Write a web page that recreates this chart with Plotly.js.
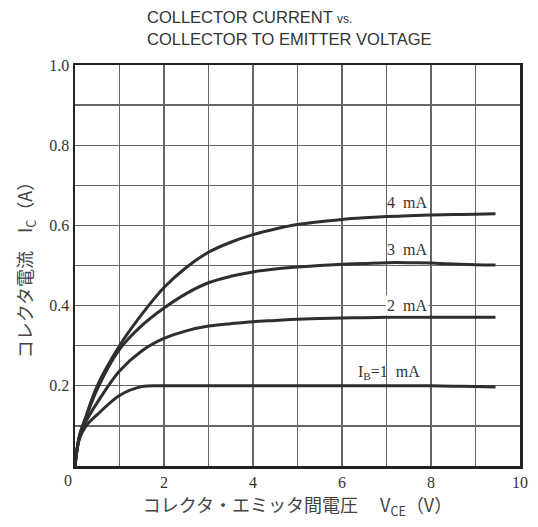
<!DOCTYPE html>
<html>
<head>
<meta charset="utf-8">
<script src="https://cdn.plot.ly/plotly-3.0.1.min.js"></script>
<style>html,body{margin:0;padding:0;background:#fff;}#chart{width:538px;height:527px;}</style>
</head>
<body>
<div id="chart"></div>
<script>
// Collector-emitter voltage (V)
const vce = [0, 0.1, 0.25, 0.5, 1, 1.5, 2, 2.5, 3, 3.5, 4, 4.5, 5, 5.5, 6, 6.5, 7, 7.5, 8, 8.5, 9, 9.45];
// Collector current (A) for each base current
const ib1mA = [0, 0.068, 0.1, 0.128, 0.176, 0.198, 0.2, 0.2, 0.2, 0.2, 0.2, 0.2, 0.2, 0.2, 0.2, 0.2, 0.2, 0.2, 0.2, 0.199, 0.198, 0.197];
const ib2mA = [0, 0.072, 0.112, 0.158, 0.237, 0.287, 0.318, 0.337, 0.349, 0.355, 0.36, 0.363, 0.366, 0.368, 0.369, 0.37, 0.371, 0.371, 0.371, 0.371, 0.371, 0.371];
const ib3mA = [0, 0.075, 0.122, 0.192, 0.291, 0.35, 0.394, 0.43, 0.457, 0.473, 0.484, 0.491, 0.496, 0.5, 0.503, 0.505, 0.507, 0.507, 0.506, 0.504, 0.502, 0.501];
const ib4mA = [0, 0.075, 0.125, 0.2, 0.30, 0.378, 0.445, 0.495, 0.533, 0.558, 0.577, 0.591, 0.602, 0.609, 0.615, 0.619, 0.622, 0.624, 0.626, 0.627, 0.628, 0.629];

const seriesNames = ['I<sub>B</sub>=1&nbsp; mA', '2&nbsp; mA', '3&nbsp; mA', '4&nbsp; mA'];
const seriesValues = [ib1mA, ib2mA, ib3mA, ib4mA];
const labelX = [7.05, 7.45, 7.45, 7.45];
const labelY = [0.232, 0.4, 0.541, 0.658];

const xTickVals = [2, 4, 6, 8, 10];
const xTickText = ['2', '4', '6', '8', '10'];
const yTickVals = [0.2, 0.4, 0.6, 0.8, 1.0];
const yTickText = ['0.2', '0.4', '0.6', '0.8', '1.0'];
const originLabel = '0';
const titleLines = ['COLLECTOR CURRENT <span style="font-size:12px">vs.</span>', 'COLLECTOR TO EMITTER VOLTAGE'];

const curveColor = '#2e2e2e';
const gridColor = '#666';
const traces = seriesValues.map((vals, i) => ({
  x: vce, y: vals, type: 'scatter', mode: 'lines',
  line: {color: curveColor, width: 3, shape: 'spline', smoothing: 1.0},
  name: seriesNames[i], hoverinfo: 'skip'
}));

const M = {l: 75, r: 18, t: 65, b: 61};
const plotW = 538 - M.l - M.r;
const plotH = 527 - M.t - M.b;

const tickFont = {family: 'Liberation Serif, serif', size: 16, color: '#333'};
const annotations = seriesNames.map((t, i) => ({
  x: labelX[i], y: labelY[i], xref: 'x', yref: 'y', text: t, showarrow: false,
  font: {family: 'Liberation Serif, serif', size: 16, color: '#333'},
  bgcolor: i === 1 ? '#fff' : 'rgba(0,0,0,0)', borderpad: 1
}));
annotations.push({
  x: 0, y: 0, xref: 'x', yref: 'y', text: originLabel, showarrow: false,
  xanchor: 'center', yanchor: 'top', xshift: -7, yshift: -4, font: tickFont
});
titleLines.forEach((t, i) => annotations.push({
  x: (145 - M.l) / plotW, y: (527 - M.b - (6 + i * 22)) / plotH,
  xref: 'paper', yref: 'paper', text: t,
  showarrow: false, xanchor: 'left', yanchor: 'top', align: 'left',
  font: {family: 'Liberation Sans, Arial, sans-serif', size: 16.5, color: '#333'}
}));

const layout = {
  width: 538, height: 527,
  margin: M,
  paper_bgcolor: '#fff', plot_bgcolor: '#fff',
  showlegend: false,
  xaxis: {
    range: [0, 10], tickmode: 'array', tickvals: xTickVals, ticktext: xTickText,
    showgrid: true, gridcolor: gridColor, gridwidth: 1.3,
    minor: {dtick: 1, showgrid: true, gridcolor: gridColor, gridwidth: 1.3, ticks: ''},
    showline: true, linecolor: '#222', linewidth: 2.5, mirror: true,
    zeroline: false, ticks: '', tickfont: tickFont,
    title: {text: 'コレクタ・エミッタ間電圧　 V<sub>CE</sub>（V）', font: {family: 'Noto Sans CJK JP, serif', size: 18, color: '#444'}, standoff: 10}
  },
  yaxis: {
    range: [0, 1.0], tickmode: 'array', tickvals: yTickVals, ticktext: yTickText,
    showgrid: true, gridcolor: gridColor, gridwidth: 1.3,
    minor: {dtick: 0.1, showgrid: true, gridcolor: gridColor, gridwidth: 1.3, ticks: ''},
    showline: true, linecolor: '#222', linewidth: 2.5, mirror: true,
    zeroline: false, ticks: '', tickfont: tickFont,
    title: {text: 'コレクタ電流　I<sub>C</sub>（A）', font: {family: 'Noto Sans CJK JP, serif', size: 18, color: '#444'}, standoff: 12}
  },
  annotations: annotations
};

Plotly.newPlot('chart', traces, layout, {displayModeBar: false, staticPlot: true});
</script>
</body>
</html>
